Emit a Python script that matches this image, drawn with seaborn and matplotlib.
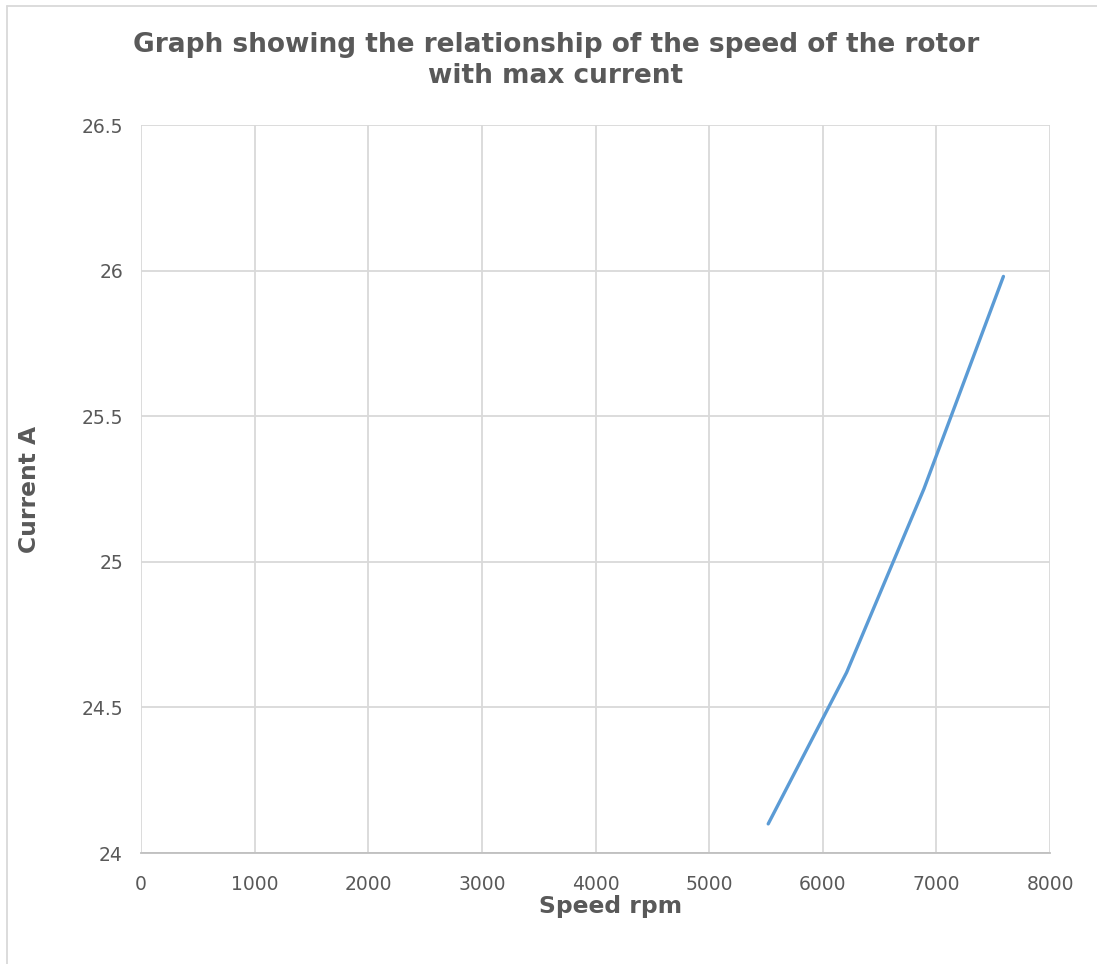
import matplotlib
matplotlib.use("Agg")
import matplotlib.pyplot as plt
import seaborn as sns
import pandas as pd
from matplotlib.lines import Line2D

speed_rpm = [5520, 6210, 6890, 7590]
current_a = [24.10, 24.62, 25.25, 25.98]
x_ticks = [0, 1000, 2000, 3000, 4000, 5000, 6000, 7000, 8000]
y_ticks = [24, 24.5, 25, 25.5, 26, 26.5]
y_tick_labels = ["24", "24.5", "25", "25.5", "26", "26.5"]

sns.set_theme(style="white")
plt.rcParams['font.family'] = ['DejaVu Sans']

df = pd.DataFrame({"Speed rpm": speed_rpm, "Current A": current_a})

fig = plt.figure(figsize=(10.97, 9.64), dpi=100)
ax = fig.add_axes([141/1097, 1-853/964, (1050-141)/1097, (853-125)/964])

sns.lineplot(data=df, x="Speed rpm", y="Current A", ax=ax, color="#5b9bd5",
             linewidth=2.4, sort=False, solid_capstyle="round")

ax.set_xlim(0, 8000)
ax.set_ylim(24, 26.5)
ax.set_xticks(x_ticks)
ax.set_xticklabels([str(t) for t in x_ticks])
ax.set_yticks(y_ticks)
ax.set_yticklabels(y_tick_labels)
ax.grid(True, color="#d9d9d9", linewidth=1.3)
ax.set_axisbelow(True)
for s in ["top", "right", "left"]:
    ax.spines[s].set_visible(False)
ax.spines["bottom"].set_color("#bfbfbf")
ax.spines["bottom"].set_linewidth(1.3)
ax.tick_params(axis="both", length=0, labelsize=13.5, colors="#595959")
ax.tick_params(axis="x", pad=16)
ax.tick_params(axis="y", pad=13)
ax.set_xlabel("")
ax.set_ylabel("")

fig.text(556/1097, 1-45/964, "Graph showing the relationship of the speed of the rotor",
         ha="center", va="center", fontsize=19, fontweight="bold", color="#595959")
fig.text(556/1097, 1-76/964, "with max current",
         ha="center", va="center", fontsize=19, fontweight="bold", color="#595959")
fig.text(611/1097, 1-907/964, "Speed rpm", ha="center", va="center",
         fontsize=16.8, fontweight="bold", color="#595959")
fig.text(30/1097, 1-489/964, "Current A", ha="center", va="center", rotation=90,
         fontsize=16.8, fontweight="bold", color="#595959")

# outer chart-area border (top and left edges visible)
fig.lines.append(Line2D([7/1097, 1], [1-5.5/964, 1-5.5/964], transform=fig.transFigure,
                        color="#d9d9d9", linewidth=1.3))
fig.lines.append(Line2D([7/1097, 7/1097], [0, 1-5.5/964], transform=fig.transFigure,
                        color="#d9d9d9", linewidth=1.3))

fig.savefig("out.png", dpi=100)
